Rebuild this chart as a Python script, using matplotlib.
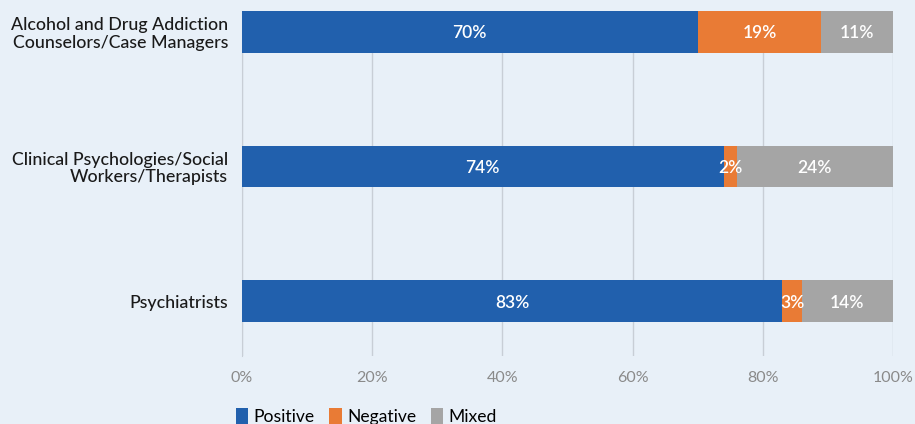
import matplotlib.pyplot as plt
import numpy as np

plt.rcParams['font.family'] = ['Lato', 'DejaVu Sans']

# 그룹 (아래에서 위 순서)
groups = ['Psychiatrists',
          'Clinical Psychologies/Social\nWorkers/Therapists',
          'Alcohol and Drug Addiction\nCounselors/Case Managers']
positive = [83, 74, 70]
negative = [3, 2, 19]
mixed = [14, 24, 11]

series = [('Positive', positive, '#2160ad'),
          ('Negative', negative, '#e97b35'),
          ('Mixed', mixed, '#a5a5a5')]

fig = plt.figure(figsize=(9.15, 4.24), dpi=100)
bg = '#e8f0f8'
fig.patch.set_facecolor(bg)
ax = fig.add_axes([242 / 915, 1 - 356 / 424, 651 / 915, 345 / 424])
ax.set_facecolor(bg)

y = np.arange(len(groups))
left = np.zeros(len(groups))
for name, vals, color in series:
    bars = ax.barh(y, vals, left=left, height=0.31, color=color, label=name, zorder=3)
    for b, v in zip(bars, vals):
        ax.text(b.get_x() + b.get_width() / 2, b.get_y() + b.get_height() / 2 - 0.01,
                f'{v}%', ha='center', va='center', color='white',
                fontsize=12.5, fontweight='semibold', zorder=4)
    left += np.array(vals)

ax.set_xlim(0, 100)
ax.set_ylim(-0.407, 2.155)
ax.set_xticks(range(0, 101, 20))
ax.set_xticklabels([f'{t}%' for t in range(0, 101, 20)])
ax.set_yticks(y)
ax.set_yticklabels(groups, fontsize=12.8, color='#1a1a1a', linespacing=1.1,
                   fontweight='medium')
ax.tick_params(axis='x', colors='#8a8a8a', labelsize=11.5, length=0, pad=11)
ax.tick_params(axis='y', length=0, pad=10)
ax.grid(axis='x', color='#c8ced6', linewidth=1, zorder=0)
for s in ['top', 'right', 'bottom']:
    ax.spines[s].set_visible(False)
ax.spines['left'].set_color('#c8ced6')

ax.legend(loc='upper left', bbox_to_anchor=(-0.02, -0.13), ncol=3, frameon=False,
          fontsize=12.6, handlelength=0.7, handleheight=1.0, handletextpad=0.3,
          columnspacing=0.85, borderaxespad=0)

fig.savefig('out.png', dpi=100, facecolor=bg)
